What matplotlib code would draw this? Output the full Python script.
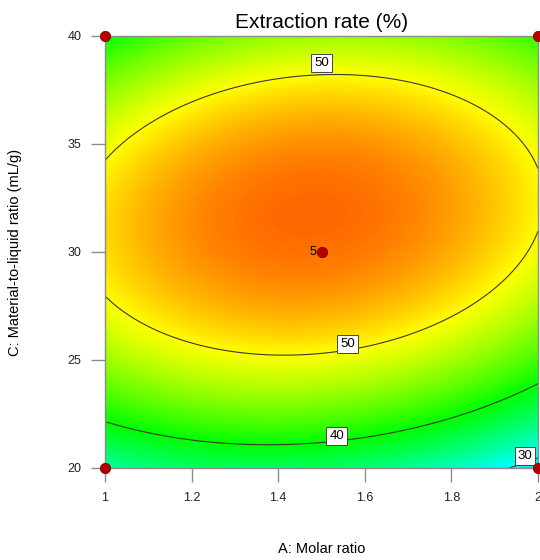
import numpy as np
import matplotlib
matplotlib.use("Agg")
import matplotlib.pyplot as plt
from matplotlib.colors import LinearSegmentedColormap

plt.rcParams['font.family'] = ['Liberation Sans', 'DejaVu Sans']

# quadratic model in coded units: b0, A, C, AC, A^2, C^2
b0, bA, bC, bAC, bAA, bCC = 55.48, -0.88, 5.00, 1.86, -5.13, -14.23

# factor ranges (actual units)
a_range = [1.0, 2.0]
c_range = [20.0, 40.0]
contour_levels = [30, 40, 50]

# design points on this face, with replicate counts
design_a = [1.0, 1.0, 2.0, 2.0, 1.5]
design_c = [20.0, 40.0, 20.0, 40.0, 30.0]
design_reps = [1, 1, 1, 1, 5]

x_ticks = [1, 1.2, 1.4, 1.6, 1.8, 2]
x_ticklabels = ['1', '1.2', '1.4', '1.6', '1.8', '2']
y_ticks = [20, 25, 30, 35, 40]


def response(A, C):
    a = (A - 1.5) / 0.5
    c = (C - 30.0) / 10.0
    return b0 + bA * a + bC * c + bAC * a * c + bAA * a ** 2 + bCC * c ** 2


A = np.linspace(a_range[0], a_range[1], 400)
C = np.linspace(c_range[0], c_range[1], 400)
AA, CC = np.meshgrid(A, C)
Z = response(AA, CC)

cmap = LinearSegmentedColormap.from_list(
    'de', ['#0000ff', '#00ffff', '#00ff00', '#ffff00', '#ff0000'])

fig = plt.figure(figsize=(5.4, 5.6), dpi=100)
ax = fig.add_axes([105 / 540, 1 - 468 / 560, 433 / 540, 432 / 560])

ax.imshow(Z, extent=[a_range[0], a_range[1], c_range[0], c_range[1]],
          origin='lower', aspect='auto', cmap=cmap, vmin=20, vmax=60,
          interpolation='bilinear')
ax.contour(AA, CC, Z, levels=contour_levels, colors='#3a3a28', linewidths=0.8)

# contour labels in white boxes
label_spots = [(50, 1.50, 38.75), (50, 1.56, 25.74), (40, 1.535, 21.48), (30, 1.97, 20.56)]
for lev, lx, ly in label_spots:
    ax.text(lx, ly, f'{lev}', fontsize=9.5, ha='center', va='center',
            bbox=dict(facecolor='white', edgecolor='#444444', linewidth=0.7,
                      boxstyle='square,pad=0.22'))

# design points
ax.scatter(design_a, design_c, s=55, color='#b40000', edgecolor='#7a0000',
           linewidth=0.6, zorder=5, clip_on=False)
for xa, yc, n in zip(design_a, design_c, design_reps):
    if n > 1:
        ax.text(xa - 0.012, yc, str(n), fontsize=9, ha='right', va='center')

ax.set_xlim(a_range)
ax.set_ylim(c_range)
ax.set_xticks(x_ticks)
ax.set_xticklabels(x_ticklabels)
ax.set_yticks(y_ticks)
ax.tick_params(axis='both', direction='out', length=10, width=1, color='#8c8c8c',
               labelsize=9, pad=7, labelcolor='#222222')
for s in ax.spines.values():
    s.set_color('#8c8c8c')
    s.set_linewidth(1)

ax.set_title('Extraction rate (%)', fontsize=15, pad=6)
ax.set_xlabel('A: Molar ratio', fontsize=10.5)
ax.set_ylabel('C: Material-to-liquid ratio (mL/g)', fontsize=10.5)
ax.xaxis.set_label_coords(0.5, -0.172)
ax.yaxis.set_label_coords(-0.192, 0.5)

fig.savefig('out.png')
